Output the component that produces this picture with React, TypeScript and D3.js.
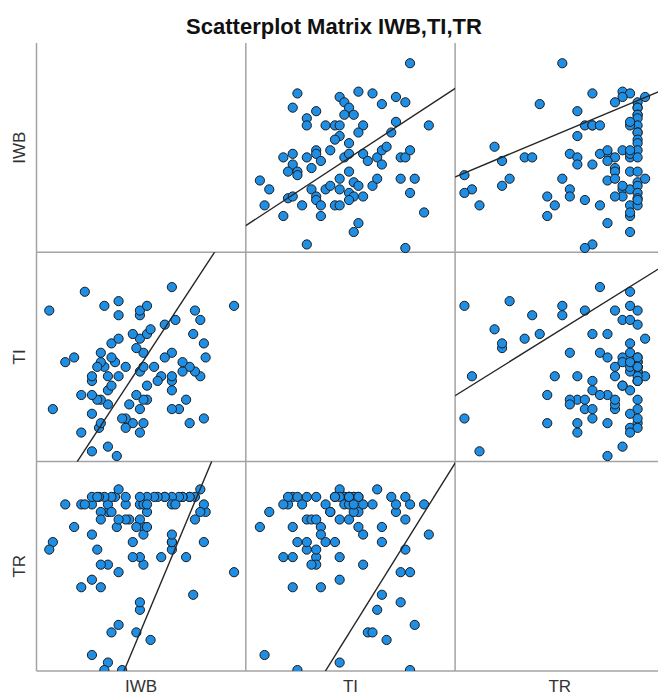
import React from "react";
import * as d3 from "d3";

// variables in the matrix (row / column order)
const variables = ["IWB", "TI", "TR"];

// one entry per respondent
const iwb = [
  65, 56.5, 57, 56.5, 55.5, 54, 55.5, 54, 52.5, 51.5,
  52.5, 50.5, 50.5, 53.5, 49.5, 47.5, 47.5, 47.5, 47.5, 47.5,
  45.5, 48.5, 45.5, 47.5, 44.5, 43.5, 42.5, 40.5, 40.5, 39.5,
  39.5, 38.5, 38.5, 37.5, 38.5, 39.5, 39.5, 37.5, 38.5, 40.5,
  41.5, 36.5, 38.5, 38.5, 40.5, 36.5, 34.5, 34.5, 33.5, 35.5,
  34.5, 32, 29.5, 29.5, 29.5, 30.5, 32.5, 29.5, 31.5, 30.5,
  28.5, 27.5, 27.5, 30.5, 32.5, 32.5, 32.5, 28.5, 27.5, 26.5,
  27, 27.5, 25, 25, 25, 25, 25, 26.5, 22, 22,
  20, 17.5, 23, 14, 13,
];
const ti = [
  41, 17, 30, 33, 38, 40, 26, 27, 16, 21,
  28, 27, 29, 35, 19, 19, 23, 25, 26, 31,
  30, 38, 37, 45, 26, 25, 28, 24, 21, 21,
  16, 14, 19, 22, 27, 28, 31, 32, 34, 35,
  36, 35, 39, 40, 41, 16, 15, 17, 17, 20,
  28, 9, 11, 20, 23, 24, 26, 26, 29, 30,
  28, 29, 31, 33, 34, 39, 42, 41, 21, 21,
  15, 16, 10, 18, 22, 25, 26, 28, 14, 22,
  30, 29, 44, 19, 40,
];
const tr = [
  19, 23, 27, 28, 27, 26, 30, 29, 29, 21,
  29, 29, 29, 16, 29, 22, 23, 23, 29, 28,
  29, 28, 29, 24, 21, 29, 29, 27, 29, 20,
  25, 21, 26, 25, 28, 28, 24, 11, 14, 25,
  10, 23, 15, 29, 28, 21, 28, 29, 6, 26,
  26, 25, 27, 20, 28, 27, 26, 7, 29, 29,
  29, 27, 20, 11, 30, 19, 12, 6, 26, 22,
  29, 17, 8, 28, 24, 29, 18, 29, 28, 17,
  25, 28, 28, 23, 22,
];
const columns = [iwb, ti, tr];

// fit lines as shown in the chart: [dependent, predictor] index pairs
const fitPairs = [
  [0, 1], // IWB on TI
  [0, 2], // IWB on TR
  [1, 2], // TI on TR
];
const fitIntercepts = [14.1, 28.8, 17.1];
const fitSlopes = [0.866, 0.887, 1.0];

const ScatterMatrix = () => {
  // -- STATE --
  const svgRef = React.useRef<SVGSVGElement>(null);
  const width = 658;
  const height = 695;
  const left = 36.5;
  const top = 43;
  const cell = 209.3;
  const yShift = 8.5; // spss plots sit a bit lower vertically
  // hidden axis extents for each variable (no ticks shown)
  const axisDomains: [number, number][] = [
    [9.4, 68.3],
    [6.0, 50.6],
    [4.76, 32.56],
  ];

  // -- LIFECYCLE --
  React.useEffect(() => {
    const svg = d3.select(svgRef.current);
    svg.selectAll("*").remove();
    svg
      .attr("width", width)
      .attr("height", height)
      .style("background-color", "#ffffff")
      .style("font-family", "'Liberation Sans', Arial, sans-serif");

    const n = variables.length;
    const xScale = (v: number, c: number) =>
      d3.scaleLinear().domain(axisDomains[v]).range([left + c * cell, left + (c + 1) * cell]);
    const yScale = (v: number, r: number) =>
      d3
        .scaleLinear()
        .domain(axisDomains[v])
        .range([top + (r + 1) * cell + yShift, top + r * cell + yShift]);

    const defs = svg.append("defs");
    defs
      .append("clipPath")
      .attr("id", "matrix-clip")
      .append("rect")
      .attr("x", left)
      .attr("y", 0)
      .attr("width", n * cell)
      .attr("height", top + n * cell);
    for (let r = 0; r < n; r++) {
      for (let c = 0; c < n; c++) {
        defs
          .append("clipPath")
          .attr("id", `panel-${r}-${c}`)
          .append("rect")
          .attr("x", left + c * cell)
          .attr("y", top + r * cell)
          .attr("width", cell)
          .attr("height", cell);
      }
    }

    // title
    svg
      .append("text")
      .attr("x", 334)
      .attr("y", 34)
      .attr("text-anchor", "middle")
      .style("font-size", "22px")
      .style("font-weight", "bold")
      .style("fill", "#111")
      .text(`Scatterplot Matrix ${variables.join(",")}`);

    // grid frame
    const grid = svg.append("g").attr("stroke", "#a3a3a3").attr("stroke-width", 1.5);
    for (let c = 0; c < n; c++) {
      grid
        .append("line")
        .attr("x1", left + c * cell)
        .attr("x2", left + c * cell)
        .attr("y1", top)
        .attr("y2", top + n * cell);
    }
    for (let r = 1; r <= n; r++) {
      grid
        .append("line")
        .attr("x1", left)
        .attr("x2", left + n * cell)
        .attr("y1", top + r * cell)
        .attr("y2", top + r * cell);
    }

    // points
    const pts = svg.append("g").attr("clip-path", "url(#matrix-clip)");
    for (let r = 0; r < n; r++) {
      for (let c = 0; c < n; c++) {
        if (r === c) continue;
        const x = xScale(c, c);
        const y = yScale(r, r);
        pts
          .selectAll(`.pt-${r}-${c}`)
          .data(d3.range(iwb.length))
          .enter()
          .append("circle")
          .attr("cx", (i) => x(columns[c][i]))
          .attr("cy", (i) => y(columns[r][i]))
          .attr("r", 4.6)
          .style("fill", "#1f8fe6")
          .style("stroke", "#1b1b1b")
          .style("stroke-width", 1);
      }
    }

    // fit lines: same equation drawn in the upper and the mirrored lower panel
    fitPairs.forEach(([i, j], k) => {
      const a = fitIntercepts[k];
      const b = fitSlopes[k];
      const [lo, hi] = axisDomains[j];
      const ts = [lo - 40, hi + 40];
      // upper panel: x = predictor, y = dependent
      const xu = xScale(j, j);
      const yu = yScale(i, i);
      svg
        .append("path")
        .attr("clip-path", `url(#panel-${i}-${j})`)
        .attr("d", d3.line()(ts.map((t) => [xu(t), yu(a + b * t)])))
        .style("fill", "none")
        .style("stroke", "#262626")
        .style("stroke-width", 1.4);
      // lower panel: x = dependent, y = predictor
      const xl = xScale(i, i);
      const yl = yScale(j, j);
      svg
        .append("path")
        .attr("clip-path", `url(#panel-${j}-${i})`)
        .attr("d", d3.line()(ts.map((t) => [xl(a + b * t), yl(t)])))
        .style("fill", "none")
        .style("stroke", "#262626")
        .style("stroke-width", 1.4);
    });

    // variable labels
    variables.forEach((name, k) => {
      svg
        .append("text")
        .attr("x", left + (k + 0.5) * cell)
        .attr("y", 692)
        .attr("text-anchor", "middle")
        .style("font-size", "17px")
        .style("fill", "#333")
        .text(name);
      svg
        .append("text")
        .attr("transform", `translate(25, ${top + (k + 0.5) * cell}) rotate(-90)`)
        .attr("text-anchor", "middle")
        .style("font-size", "17px")
        .style("fill", "#333")
        .text(name);
    });
  }, []);

  // -- RENDER --
  return <svg ref={svgRef} style={{ position: "absolute", left: 0, top: 0 }} />;
};

export default function App() {
  return <ScatterMatrix />;
}
